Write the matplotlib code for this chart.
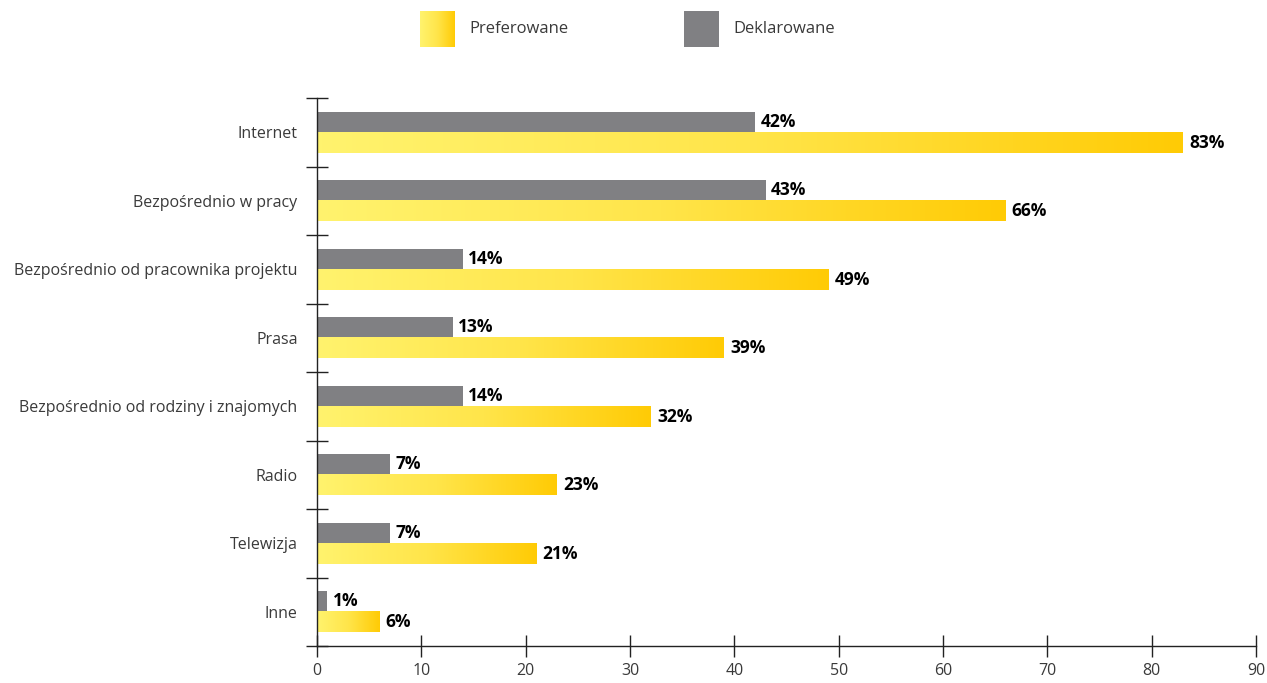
import numpy as np
import matplotlib.pyplot as plt
from matplotlib.colors import LinearSegmentedColormap

categories = ["Internet", "Bezpośrednio w pracy", "Bezpośrednio od pracownika projektu",
              "Prasa", "Bezpośrednio od rodziny i znajomych", "Radio", "Telewizja", "Inne"]
preferowane = [83, 66, 49, 39, 32, 23, 21, 6]
deklarowane = [42, 43, 14, 13, 14, 7, 7, 1]
xticks = [0, 10, 20, 30, 40, 50, 60, 70, 80, 90]

GRAY = "#808083"
TEXT = "#3a3a3a"
yellow = LinearSegmentedColormap.from_list("yel", ["#fff36e", "#ffe54a", "#ffcb05"])
grad = np.linspace(0, 1, 256).reshape(1, -1)

plt.rcParams['font.family'] = ['Open Sans', 'DejaVu Sans']


def gradient_bar(ax, y, width, height):
    # horizontal bar filled with a left-to-right yellow gradient
    ax.imshow(grad, cmap=yellow, aspect='auto', interpolation='bilinear',
              extent=(0, width, y + height / 2, y - height / 2), zorder=2)


def main():
    fig = plt.figure(figsize=(12.67, 6.83), dpi=100)
    ax = fig.add_axes([317 / 1267, 1 - 646 / 683, (1256 - 317) / 1267, (646 - 98) / 683])

    h = 0.3
    y = np.arange(len(categories))
    for i, (p, d) in enumerate(zip(preferowane, deklarowane)):
        ax.barh(i - h / 2, d, height=h, color=GRAY, zorder=2)
        gradient_bar(ax, i + h / 2, p, h)
        ax.text(d + 0.5, i - h / 2, f"{d}%", va='center', ha='left',
                fontsize=12.5, fontweight='bold', color='black')
        ax.text(p + 0.6, i + h / 2, f"{p}%", va='center', ha='left',
                fontsize=12.5, fontweight='bold', color='black')

    ax.set_xlim(0, 90)
    ax.set_ylim(len(categories) - 0.5, -0.5)

    ax.set_yticks(np.arange(len(categories) + 1) - 0.5)
    ax.set_yticklabels([])
    ax.set_yticks(y, minor=True)
    ax.set_yticklabels(categories, minor=True, fontsize=11.5, color=TEXT,
                       va='center_baseline')
    ax.tick_params(axis='y', which='minor', length=0, pad=14)
    ax.tick_params(axis='y', which='major', direction='inout', length=16, width=1)

    ax.set_xticks(xticks)
    ax.set_xticklabels([str(t) for t in xticks], fontsize=11.5, color=TEXT)
    ax.tick_params(axis='x', direction='inout', length=16, width=1, pad=4)

    for s in ['top', 'right']:
        ax.spines[s].set_visible(False)
    for s in ['left', 'bottom']:
        ax.spines[s].set_linewidth(1)
        ax.spines[s].set_color('#222222')
    ax.tick_params(colors='#222222', which='major')
    ax.tick_params(axis='both', labelcolor=TEXT, which='both')

    # legend squares
    lax1 = fig.add_axes([420 / 1267, 1 - 47 / 683, 35 / 1267, 36 / 683])
    lax1.imshow(grad, cmap=yellow, aspect='auto', interpolation='bilinear')
    lax1.axis('off')
    fig.text(469 / 1267, 1 - 29 / 683, "Preferowane", fontsize=12, color=TEXT, va='center')

    lax2 = fig.add_axes([684 / 1267, 1 - 47 / 683, 35 / 1267, 36 / 683])
    lax2.add_patch(plt.Rectangle((0, 0), 1, 1, color=GRAY))
    lax2.axis('off')
    fig.text(733 / 1267, 1 - 29 / 683, "Deklarowane", fontsize=12, color=TEXT, va='center')

    fig.savefig("out.png", dpi=100)


if __name__ == "__main__":
    main()
